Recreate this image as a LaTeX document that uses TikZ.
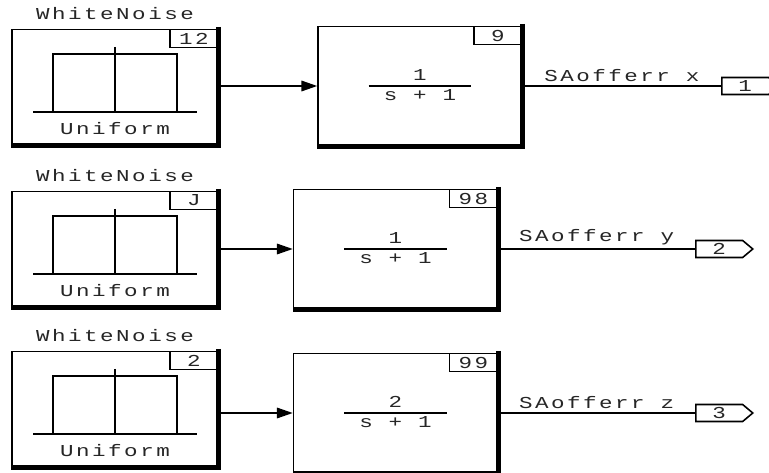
\documentclass[tikz,border=0pt]{standalone}
\usepackage{fontspec}
\setmonofont{Liberation Mono}[FakeStretch=1.35, LetterSpace=15]
\usetikzlibrary{arrows.meta}
\usetikzlibrary{shapes.symbols}

\begin{document}
\begin{tikzpicture}[x=0.02cm, y=-0.02cm,
		txt/.style={font=\ttfamily\fontsize{9.5}{9.5}\selectfont, text=black!85, inner sep=1pt},
		blk/.style={draw, line width=.9pt, minimum width=4.12cm, minimum height=2.3cm, inner sep=0pt},
		tfblk/.style={blk, minimum width=4.08cm, minimum height=2.38cm},
		idx/.style={txt, draw, line width=.9pt, minimum width=.96cm, minimum height=.36cm, anchor=north east},
		port/.style={txt, draw, line width=.9pt, shape=signal, signal to=east, signal pointer angle=80,
			minimum width=1.14cm, minimum height=.34cm, inner sep=0pt, anchor=west},
		wire/.style={line width=.9pt},
		shadow/.style={line width=2.8pt, line join=miter}
	]
	\useasboundingbox (0,0) rectangle (769,473);
	\foreach \i/\ny/\nid/\fx/\fy/\fnum/\fid/\ox/\sg in
		{1/87/12/420/86/1/9/721/x, 2/249/J/395.5/249/1/98/695/y, 3/409/2/395.5/413/2/99/695/z} {
		% noise source
		\node[blk] (wn\i) at (115,\ny) {};
		\draw[shadow] ([yshift=1pt]wn\i.north east) -- (wn\i.south east) -- (wn\i.south west);
		\node[idx] (wnidx\i) at (wn\i.north east) {\nid};
		\node[txt, anchor=south] (wl\i) at ([yshift=4pt]wn\i.north) {WhiteNoise};
		\begin{scope}[shift={(wn\i.center)}, wire]
			\draw (-62,25) -- (-62,-33) -- (62,-33) -- (62,25);
			\draw (-82,25) -- (82,25);
			\draw (0,-40) -- (0,25);
			\node[txt] (un\i) at (0,42) {Uniform};
		\end{scope}
		% transfer fcn
		\node[tfblk] (tf\i) at (\fx,\fy) {};
		\draw[shadow] ([yshift=1pt]tf\i.north east) -- (tf\i.south east) -- (tf\i.south west);
		\node[idx] (tfidx\i) at (tf\i.north east) {\fid};
		\draw[wire] ([xshift=-1.03cm]tf\i.center) -- ([xshift=1.03cm]tf\i.center);
		\node[txt, anchor=south] (num\i) at ([yshift=2pt]tf\i.center) {\fnum};
		\node[txt, anchor=north] (den\i) at ([yshift=-1pt]tf\i.center) {s\hspace{9pt}+\hspace{9pt}1};
		% wires and outport
		\draw[wire, -{Triangle[length=9pt, width=6pt]}] (wn\i.east |- tf\i.west) -- (tf\i.west);
		\node[port] (out\i) at (\ox,\fy) {\i};
		\draw[wire] (tf\i.east) -- node[txt, above=1pt] (sig\i) {SAofferr \sg} (out\i.west);
	}
\end{tikzpicture}
\end{document}
